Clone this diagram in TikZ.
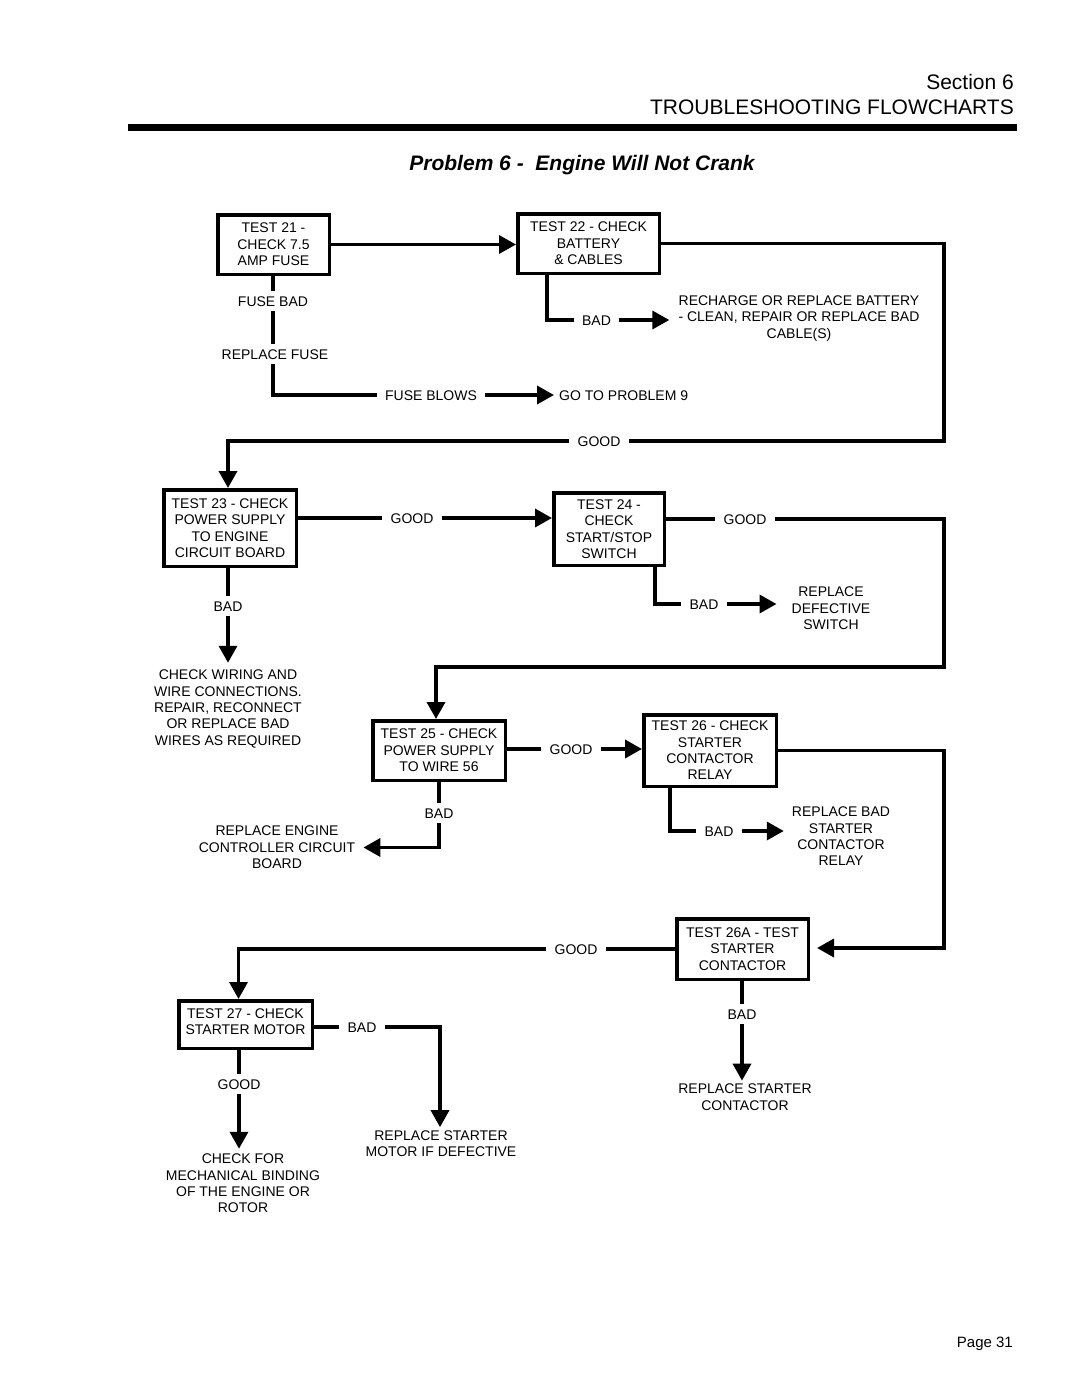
\documentclass[tikz,border=0pt]{standalone}
\usepackage{fontspec}
\setmainfont{Liberation Sans}
\usetikzlibrary{arrows.meta}
\newfontfamily\hv{Liberation Sans}
\newcommand{\bxf}{\hv\fontsize{14}{16.4}\selectfont}
\begin{document}
\begin{tikzpicture}[x=1pt,y=-1pt,
  box/.style={draw, line width=3.5pt, inner sep=0pt, align=center, font=\bxf},
  lbl/.style={font=\bxf, inner xsep=8pt, inner ysep=5pt, text height=10pt, text depth=0pt},
  txt/.style={font=\bxf, align=center, inner sep=3pt},
  ln/.style={line width=3.5pt},
  arr/.style={ln, -{Triangle[length=17pt,width=18pt]}}
]
\fill[white] (0,0) rectangle (1080,1397);
\useasboundingbox (0,0) rectangle (1080,1397);

% header
\node[anchor=base east, font=\hv\fontsize{21}{24}\selectfont, inner sep=0pt] (sec) at (1014,89) {Section 6};
\node[anchor=base east, font=\hv\fontsize{21}{24}\selectfont, inner sep=0pt] (tf) at (1014,114) {TROUBLESHOOTING FLOWCHARTS};
\fill (128,124) rectangle (1017,131);
\node[font=\hv\bfseries\itshape\fontsize{21}{24}\selectfont] (title) at (582,165) {Problem 6 - \ Engine Will Not Crank};
\node[anchor=base east, font=\hv\fontsize{15}{18}\selectfont, inner sep=0pt] (page) at (1013,1347) {Page 31};

% boxes
\node[box, minimum width=111.5pt, minimum height=59.5pt] (t21) at (273.5,244.5) {TEST 21 -\\CHECK 7.5\\AMP FUSE};
\node[box, minimum width=141.5pt, minimum height=59.5pt] (t22) at (588.5,243.5) {TEST 22 - CHECK\\BATTERY\\\& CABLES};
\node[box, minimum width=132.5pt, minimum height=76.5pt] (t23) at (230,528) {TEST 23 - CHECK\\POWER SUPPLY\\TO ENGINE\\CIRCUIT BOARD};
\node[box, minimum width=110.5pt, minimum height=72.5pt] (t24) at (609,529) {TEST 24 -\\CHECK\\START/STOP\\SWITCH};
\node[box, minimum width=132.5pt, minimum height=59.5pt] (t25) at (439,750.5) {TEST 25 - CHECK\\POWER SUPPLY\\TO WIRE 56};
\node[box, minimum width=132.5pt, minimum height=71.5pt] (t26) at (710,750.5) {TEST 26 - CHECK\\STARTER\\CONTACTOR\\RELAY};
\node[box, minimum width=131.5pt, minimum height=60.5pt] (t26a) at (742.5,949) {TEST 26A - TEST\\STARTER\\CONTACTOR};
\node[box, minimum width=133.5pt, minimum height=47.5pt, text depth=6pt] (t27) at (245.5,1024.5) {TEST 27 - CHECK\\STARTER MOTOR};

% labels
\node[lbl] (fusebad) at (273,301) {FUSE BAD};
\node[lbl] (replfuse) at (275,354) {REPLACE FUSE};
\node[lbl] (fuseblows) at (431,395) {FUSE BLOWS};
\node[txt, anchor=west] (goto9) at (556,396) {GO TO PROBLEM 9};
\node[lbl] (bad1) at (596.5,320) {BAD};
\node[txt] (recharge) at (799,318.5) {RECHARGE OR REPLACE BATTERY\\- CLEAN, REPAIR OR REPLACE BAD\\CABLE(S)};
\node[lbl] (good1) at (599,441) {GOOD};
\node[lbl] (good2) at (412,518) {GOOD};
\node[lbl] (good3) at (745,519) {GOOD};
\node[lbl] (bad2) at (704,604) {BAD};
\node[txt] (replsw) at (831,608.5) {REPLACE\\DEFECTIVE\\SWITCH};
\node[lbl] (bad3) at (228,606) {BAD};
\node[txt] (checkwiring) at (228,709) {CHECK WIRING AND\\WIRE CONNECTIONS.\\REPAIR, RECONNECT\\OR REPLACE BAD\\WIRES AS REQUIRED};
\node[lbl] (good4) at (571,749) {GOOD};
\node[lbl] (bad5) at (439,813) {BAD};
\node[txt] (replengine) at (277,847.5) {REPLACE ENGINE\\CONTROLLER CIRCUIT\\BOARD};
\node[lbl] (bad4) at (719,831) {BAD};
\node[txt] (replrelay) at (841,836.5) {REPLACE BAD\\STARTER\\CONTACTOR\\RELAY};
\node[lbl] (good5) at (576,949) {GOOD};
\node[lbl] (bad6) at (742,1014) {BAD};
\node[txt] (replcont) at (745,1097) {REPLACE STARTER\\CONTACTOR};
\node[lbl] (bad7) at (362,1027) {BAD};
\node[txt] (replmotor) at (441,1143.5) {REPLACE STARTER\\MOTOR IF DEFECTIVE};
\node[lbl] (good6) at (239,1084) {GOOD};
\node[txt] (checkfor) at (243,1183.5) {CHECK FOR\\MECHANICAL BINDING\\OF THE ENGINE OR\\ROTOR};

\coordinate (c1) at (944,441);
\coordinate (c2) at (944,667);
\coordinate (c3) at (944,948);

% connectors
\draw[arr] (t21.east) -- (t21.east -| t22.west);
\draw[ln] (t21.south -| fusebad) -- (fusebad);
\draw[ln] (fusebad) -- (fusebad |- replfuse.north);
\draw[ln] (replfuse.south -| fusebad) |- (fuseblows);
\draw[arr, shorten >=2pt] (fuseblows) -- (fuseblows -| goto9.west);

\draw[ln] ([xshift=-41.5pt]t22.south) |- (bad1);
\draw[arr, shorten >=6pt] (bad1.east) -- (bad1.east -| recharge.west);

\draw[ln] (t22.east) -| (c1) -- (good1);
\draw[arr] (good1) -| ([xshift=-2pt]t23.north);

\draw[ln] (t23.east |- good2) -- (good2);
\draw[arr] (good2) -- (good2 -| t24.west);

\draw[ln] (t24.east |- good3) -- (good3);
\draw[arr] (good3) -| (c2) -| ([xshift=-3pt]t25.north);

\draw[ln] ([xshift=46pt]t24.south) |- (bad2);
\draw[arr, shorten >=12pt] (bad2.east) -- (bad2.east -| replsw.west);

\draw[ln] (t23.south -| bad3) -- (bad3);
\draw[arr, shorten >=4pt] (bad3) -- (bad3 |- checkwiring.north);

\draw[ln] (t25.east |- good4) -- (good4);
\draw[arr] (good4) -- (good4 -| t26.west);

\draw[arr, shorten >=7pt] (t26.east) -| (c3) -- (c3 -| t26a.east);

\draw[ln] ([xshift=-40pt]t26.south) |- (bad4);
\draw[arr, shorten >=5pt] (bad4.east) -- (bad4.east -| replrelay.west);

\draw[ln] (t25) -- (bad5);
\draw[arr, shorten >=5pt] (bad5) |- (replengine);

\draw[ln] (t26a.west |- good5) -- (good5);
\draw[arr] (good5) -| ([xshift=-7pt]t27.north);

\draw[ln] (t26a.south -| bad6) -- (bad6);
\draw[arr] (bad6.south) -- (bad6.south |- replcont.north);

\draw[ln] (t27.east |- bad7) -- (bad7);
\draw[arr] (bad7) -| ([xshift=-1pt]replmotor.north);

\draw[ln] (t27.south -| good6) -- (good6);
\draw[arr, shorten >=2pt] (good6.south) -- (good6.south |- checkfor.north);
\end{tikzpicture}
\end{document}
